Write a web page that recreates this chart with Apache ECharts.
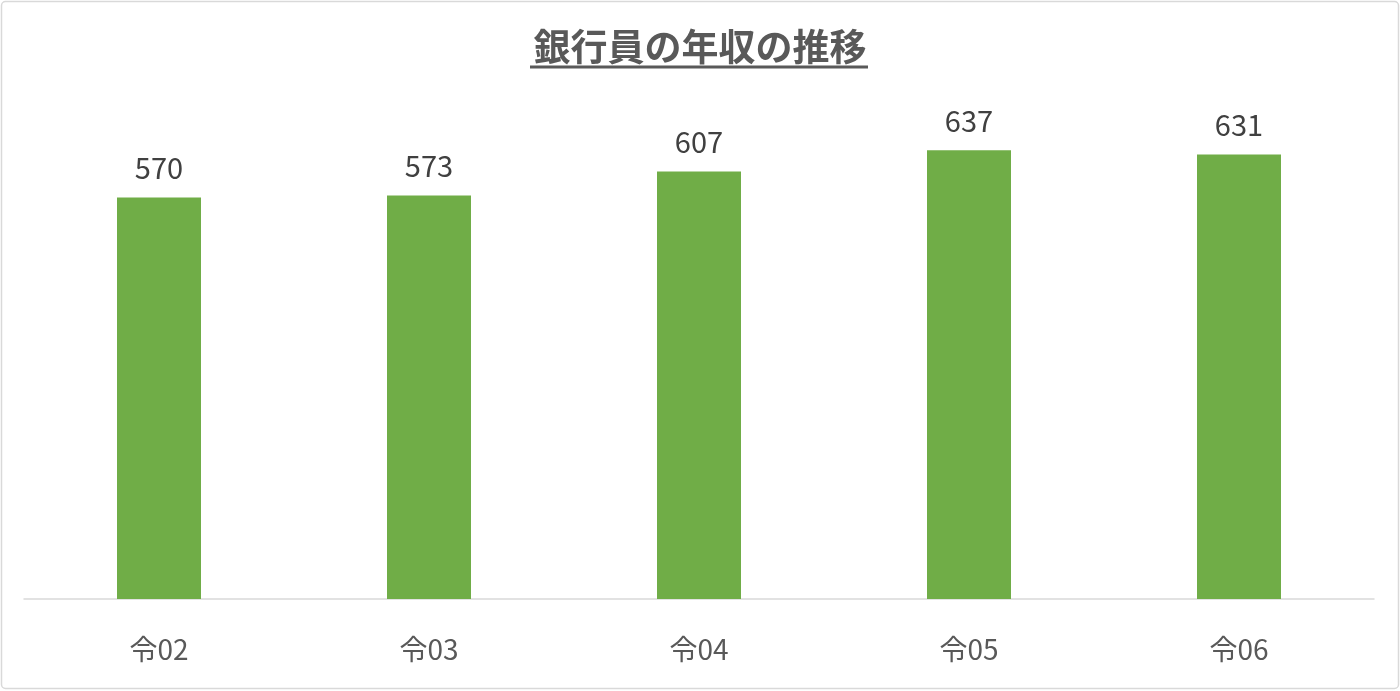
<!DOCTYPE html>
<html>
<head>
<meta charset="utf-8">
<script src="https://cdn.jsdelivr.net/npm/echarts@6/dist/echarts.min.js"></script>
<style>
html,body{margin:0;padding:0;background:#fff;}
#c{width:1400px;height:691px;}
</style>
</head>
<body>
<div id="c"></div>
<script>
const categories = ['令02', '令03', '令04', '令05', '令06'];
const salaries = [570, 573, 607, 637, 631];
const titleText = '銀行員の年収の推移';

const chart = echarts.init(document.getElementById('c'));
const fontFam = '"Noto Sans CJK JP", "Noto Sans", sans-serif';
chart.setOption({
  animation: false,
  backgroundColor: '#ffffff',
  title: {
    text: titleText,
    left: 'center',
    top: 23,
    textStyle: { fontFamily: fontFam, fontSize: 37, fontWeight: 'bold', color: '#595959' }
  },
  graphic: [
    { type: 'rect', shape: { x: 1.5, y: 1.5, width: 1397, height: 687, r: 4 },
      style: { fill: 'none', stroke: '#d9d9d9', lineWidth: 1.5 }, silent: true },
    { type: 'line', shape: { x1: 530, y1: 67, x2: 868, y2: 67 },
      style: { stroke: '#595959', lineWidth: 3 }, silent: true }
  ],
  grid: { left: 24, right: 26, top: 106, bottom: 92, containLabel: false },
  xAxis: {
    type: 'category',
    data: categories,
    axisLine: { lineStyle: { color: '#d9d9d9', width: 1.5 } },
    axisTick: { show: false },
    axisLabel: { fontFamily: fontFam, fontSize: 28, color: '#595959', margin: 36 }
  },
  yAxis: {
    type: 'value',
    min: 0,
    max: 700,
    show: false,
    splitLine: { show: false }
  },
  series: [{
    type: 'bar',
    data: salaries,
    barWidth: 84,
    itemStyle: { color: '#70ad47' },
    label: {
      show: true,
      position: 'top',
      distance: 15,
      fontFamily: fontFam,
      fontSize: 29,
      color: '#404040'
    }
  }]
});
</script>
</body>
</html>
